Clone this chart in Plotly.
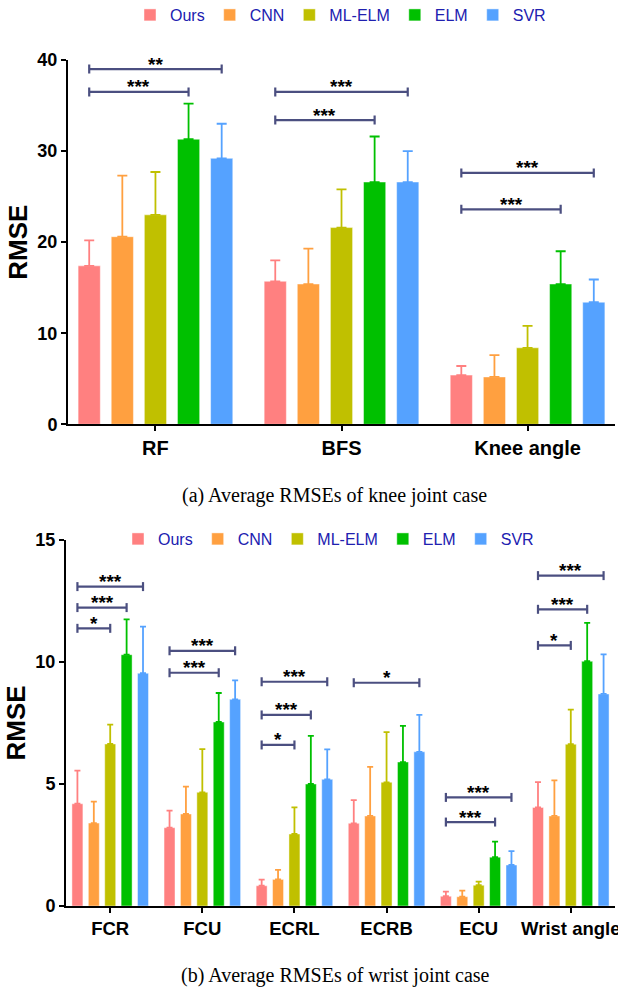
import plotly.graph_objects as go

# ---------------- data ----------------
series = ["Ours", "CNN", "ML-ELM", "ELM", "SVR"]
colors = ["#FF8080", "#FFA040", "#C0C000", "#00C000", "#55A2FF"]

knee_cats = ["RF", "BFS", "Knee angle"]
knee_mean = [
    [17.4, 15.7, 5.4],    # Ours
    [20.6, 15.4, 5.2],    # CNN
    [23.0, 21.6, 8.4],    # ML-ELM
    [31.3, 26.6, 15.4],   # ELM
    [29.2, 26.6, 13.4],   # SVR
]
knee_sd = [
    [2.8, 2.3, 1.0],
    [6.7, 3.9, 2.4],
    [4.7, 4.2, 2.4],
    [3.9, 5.0, 3.6],
    [3.8, 3.4, 2.5],
]
# (category index, from series, to series, level, label)
knee_sig = [
    (0, 0, 4, 39.0, "**"), (0, 0, 3, 36.5, "***"),
    (1, 0, 4, 36.5, "***"), (1, 0, 3, 33.4, "***"),
    (2, 0, 4, 27.6, "***"), (2, 0, 3, 23.6, "***"),
]

wrist_cats = ["FCR", "FCU", "ECRL", "ECRB", "ECU", "Wrist angle"]
wrist_mean = [
    [4.19, 3.21, 0.83, 3.39, 0.40, 4.04],
    [3.40, 3.77, 1.09, 3.69, 0.38, 3.69],
    [6.64, 4.66, 2.95, 5.07, 0.85, 6.63],
    [10.30, 7.54, 5.00, 5.90, 2.00, 10.03],
    [9.54, 8.47, 5.19, 6.32, 1.68, 8.69],
]
wrist_sd = [
    [1.36, 0.70, 0.25, 0.95, 0.19, 1.04],
    [0.88, 1.12, 0.39, 2.01, 0.25, 1.46],
    [0.79, 1.77, 1.09, 2.06, 0.15, 1.42],
    [1.45, 1.19, 1.97, 1.48, 0.64, 1.57],
    [1.91, 0.78, 1.23, 1.51, 0.57, 1.62],
]
wrist_sig = [
    (0, 0, 4, 13.09, "***"), (0, 0, 3, 12.23, "***"), (0, 0, 2, 11.38, "*"),
    (1, 0, 4, 10.46, "***"), (1, 0, 3, 9.56, "***"),
    (2, 0, 4, 9.19, "***"), (2, 0, 3, 7.83, "***"), (2, 0, 2, 6.60, "*"),
    (3, 0, 4, 9.15, "*"),
    (4, 0, 4, 4.45, "***"), (4, 0, 3, 3.44, "***"),
    (5, 0, 4, 13.54, "***"), (5, 0, 3, 12.16, "***"), (5, 0, 2, 10.68, "*"),
]

captions = ["(a) Average RMSEs of knee joint case", "(b) Average RMSEs of wrist joint case"]

# ---------------- figure ----------------
W, H = 618, 989
BARGAP = 0.11
SLOT = (1 - BARGAP) / len(series)

fig = go.Figure()

def add_bars(cats, means, sds, xa, ya, legend_name, err_w):
    for i, name in enumerate(series):
        fig.add_trace(go.Bar(
            x=cats, y=means[i], name=name,
            marker=dict(color=colors[i], line=dict(color="rgba(255,255,255,0.45)", width=1)),
            error_y=dict(type="data", array=sds[i], arrayminus=[0] * len(cats), symmetric=False,
                         color=colors[i], thickness=1.8, width=err_w),
            xaxis=xa, yaxis=ya, legend=legend_name, showlegend=True,
        ))

add_bars(knee_cats, knee_mean, knee_sd, "x", "y", "legend", 5)
add_bars(wrist_cats, wrist_mean, wrist_sd, "x2", "y2", "legend2", 3)

BRK = "#4B4F80"
def add_sig(sigs, xref, yref):
    for (c, a, b, lvl, lab) in sigs:
        xa = c + (a - 2) * SLOT
        xb = c + (b - 2) * SLOT
        fig.add_shape(type="line", xref=xref, yref=yref, x0=xa, x1=xb, y0=lvl, y1=lvl,
                      line=dict(color=BRK, width=2.2))
        for xe in (xa, xb):
            fig.add_shape(type="line", xref=xref, yref=yref, x0=xe, x1=xe,
                          ysizemode="pixel", yanchor=lvl, y0=-4.5, y1=4.5,
                          line=dict(color=BRK, width=2.2))
        fig.add_annotation(x=(xa + xb) / 2, y=lvl, xref=xref, yref=yref, text=lab,
                           showarrow=False, yanchor="middle", yshift=5,
                           font=dict(family="Liberation Sans", size=19, color="black", weight="bold"))

add_sig(knee_sig, "x", "y")
add_sig(wrist_sig, "x2", "y2")

def py(p):
    return 1 - p / H

axis_common = dict(showline=True, linecolor="black", linewidth=2, ticks="outside",
                   ticklen=5, tickwidth=2, tickcolor="black", showgrid=False, zeroline=False,
                   automargin=False)

fig.update_layout(
    template="none",
    width=W, height=H, margin=dict(l=0, r=0, t=0, b=0, autoexpand=False),
    paper_bgcolor="white", plot_bgcolor="white",
    barmode="group", bargap=BARGAP, bargroupgap=0.33,
    font=dict(family="Liberation Sans", color="black"),
    xaxis=dict(domain=[68 / W, 615 / W], range=[-0.47, 2.47], anchor="y",
               tickfont=dict(size=20, weight="bold"), **axis_common),
    yaxis=dict(domain=[py(424.3), py(60)], range=[0, 40], dtick=10, anchor="x",
               tickfont=dict(size=18, weight="bold"),
               title=dict(text="RMSE", font=dict(size=26, weight="bold"), standoff=2),
               **axis_common),
    xaxis2=dict(domain=[66 / W, 615 / W], range=[-0.48, 5.48], anchor="y2",
                tickfont=dict(size=18.5, weight="bold"), **axis_common),
    yaxis2=dict(domain=[py(906), py(540)], range=[0, 15], dtick=5, anchor="x2",
                tickfont=dict(size=18, weight="bold"),
                title=dict(text="RMSE", font=dict(size=26, weight="bold"), standoff=2),
                **axis_common),
    legend=dict(orientation="h", x=130 / W, xanchor="left", y=py(15), yanchor="middle",
                font=dict(size=16, color="#2020B0"), bgcolor="rgba(0,0,0,0)"),
    legend2=dict(orientation="h", x=118 / W, xanchor="left", y=py(539), yanchor="middle",
                 font=dict(size=16, color="#2020B0"), bgcolor="rgba(0,0,0,0)"),
)

fig.add_annotation(text=captions[0], xref="paper", yref="paper", x=180 / W, y=py(496),
                   showarrow=False, xanchor="left", yanchor="middle",
                   font=dict(family="Liberation Serif", size=20, color="black"))
fig.add_annotation(text=captions[1], xref="paper", yref="paper", x=179 / W, y=py(975),
                   showarrow=False, xanchor="left", yanchor="middle",
                   font=dict(family="Liberation Serif", size=20, color="black"))

fig.write_html("out.html", config={"displayModeBar": False},
               post_script="document.body.style.margin='0px';")
